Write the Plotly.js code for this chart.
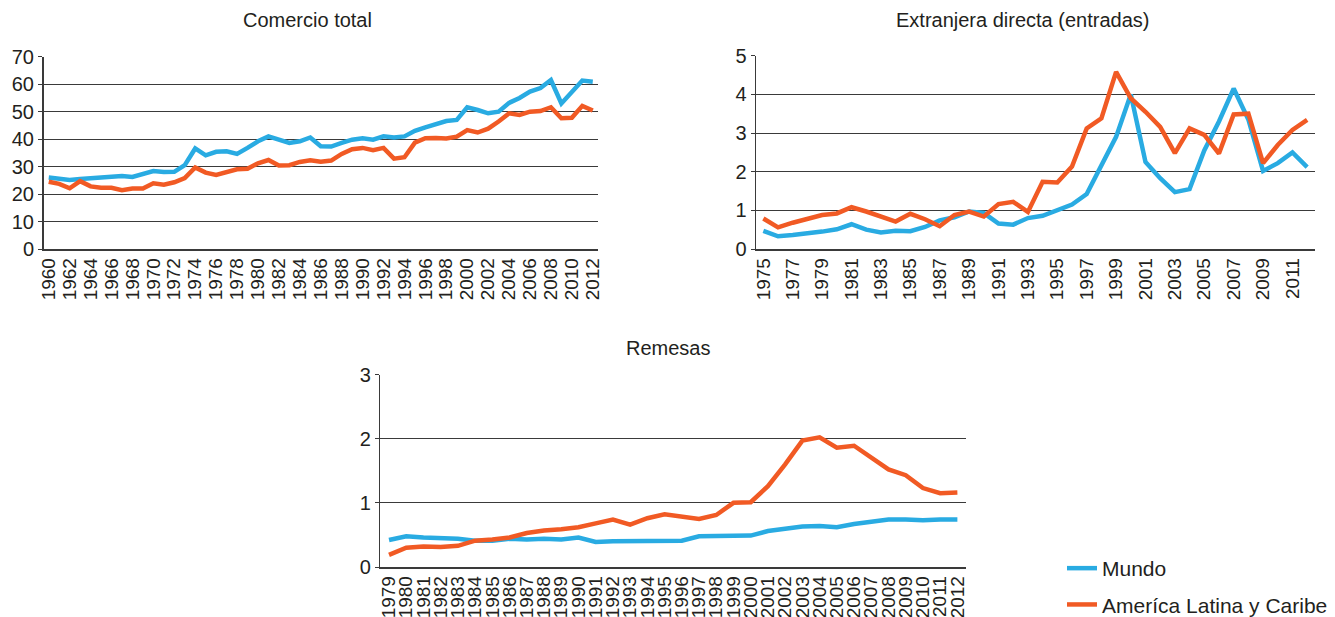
<!DOCTYPE html>
<html>
<head>
<meta charset="utf-8">
<script src="https://cdn.plot.ly/plotly-3.0.1.min.js"></script>
<style>
  html, body { margin: 0; padding: 0; background: #ffffff; }
  #chart { width: 1335px; height: 617px; }
</style>
</head>
<body>
<div id="chart"></div>
<script>
// ---- Data ----
const seriesNames = ["Mundo", "Ameríca Latina y Caribe"];
const chartTitles = ["Comercio total", "Extranjera directa (entradas)", "Remesas"];

const yearsComercio = [1960,1961,1962,1963,1964,1965,1966,1967,1968,1969,1970,1971,1972,1973,1974,1975,1976,1977,1978,1979,1980,1981,1982,1983,1984,1985,1986,1987,1988,1989,1990,1991,1992,1993,1994,1995,1996,1997,1998,1999,2000,2001,2002,2003,2004,2005,2006,2007,2008,2009,2010,2011,2012];
const comercioMundo = [26.0,25.5,25.1,25.5,25.7,25.8,26.2,26.6,26.2,27.2,28.4,28.0,28.1,30.5,36.6,34.1,35.4,35.6,34.6,36.8,39.2,41.0,39.6,38.6,39.2,40.6,37.4,37.3,38.6,39.8,40.3,39.8,41.0,40.6,41.0,43.0,44.3,45.6,46.6,47.0,51.6,50.6,49.4,50.0,53.2,55.0,57.3,58.6,61.5,53.0,57.3,61.3,60.9];
const comercioALC = [24.5,23.7,22.1,24.7,22.8,22.3,22.3,21.4,22.0,22.0,23.9,23.4,24.3,25.8,29.7,27.8,27.0,27.8,29.0,29.2,31.2,32.4,30.4,30.5,31.7,32.3,31.8,32.2,34.6,36.3,36.8,36.0,36.8,32.9,33.4,38.7,40.3,40.4,40.2,40.9,43.3,42.4,43.8,46.4,49.4,48.8,50.0,50.2,51.6,47.6,47.8,52.1,50.4];

const yearsIED = [1975,1976,1977,1978,1979,1980,1981,1982,1983,1984,1985,1986,1987,1988,1989,1990,1991,1992,1993,1994,1995,1996,1997,1998,1999,2000,2001,2002,2003,2004,2005,2006,2007,2008,2009,2010,2011,2012];
const iedMundo = [0.47,0.33,0.36,0.40,0.45,0.51,0.64,0.50,0.43,0.47,0.46,0.57,0.74,0.82,0.97,0.93,0.66,0.63,0.80,0.86,1.00,1.15,1.42,2.15,2.90,4.00,2.25,1.83,1.47,1.55,2.55,3.30,4.15,3.35,2.02,2.22,2.50,2.12];
const iedALC = [0.79,0.56,0.68,0.79,0.88,0.92,1.08,0.97,0.85,0.71,0.91,0.77,0.59,0.88,0.97,0.84,1.16,1.22,0.96,1.74,1.72,2.13,3.12,3.38,4.58,3.90,3.55,3.16,2.48,3.12,2.95,2.47,3.48,3.50,2.22,2.69,3.08,3.34];

const yearsRemesas = [1979,1980,1981,1982,1983,1984,1985,1986,1987,1988,1989,1990,1991,1992,1993,1994,1995,1996,1997,1998,1999,2000,2001,2002,2003,2004,2005,2006,2007,2008,2009,2010,2011,2012];
const remesasMundo = [0.42,0.48,0.46,0.45,0.44,0.41,0.41,0.44,0.43,0.44,0.43,0.46,0.39,0.40,0.40,0.41,0.41,0.41,0.48,0.48,0.48,0.49,0.56,0.59,0.63,0.64,0.62,0.67,0.71,0.74,0.74,0.73,0.74,0.74];
const remesasALC = [0.19,0.30,0.32,0.31,0.33,0.41,0.43,0.46,0.53,0.57,0.59,0.62,0.68,0.74,0.66,0.76,0.82,0.78,0.75,0.81,1.00,1.01,1.26,1.60,1.97,2.02,1.86,1.89,1.70,1.52,1.43,1.23,1.15,1.16];

// ---- Styling ----
const colors = ["#29abe2", "#f15a24"];
const FONT = "Liberation Sans, Arial, Helvetica, sans-serif";
const TXT = "#231f20";
const GRID = "#3a3a3a";
const W = 1335, H = 617;
const px = v => v / W;
const py = v => 1 - v / H;

function line(x, y, i, xa, ya, show) {
  return {
    type: "scatter", mode: "lines", x: x, y: y, name: seriesNames[i],
    xaxis: xa, yaxis: ya, showlegend: show, legendgroup: "g" + i,
    line: { color: colors[i], width: 4.5 }, hoverinfo: "x+y"
  };
}

const data = [
  line(yearsComercio, comercioMundo, 0, "x", "y", true),
  line(yearsComercio, comercioALC, 1, "x", "y", true),
  line(yearsIED, iedMundo, 0, "x2", "y2", false),
  line(yearsIED, iedALC, 1, "x2", "y2", false),
  line(yearsRemesas, remesasMundo, 0, "x3", "y3", false),
  line(yearsRemesas, remesasALC, 1, "x3", "y3", false)
];

function xAxis(domain, first, last, dtick, anchor) {
  return {
    domain: domain, anchor: anchor, type: "linear",
    range: [first - 0.5, last + 0.5], tick0: first, dtick: dtick,
    tickangle: -90, tickformat: "d",
    tickfont: { family: FONT, size: 19, color: TXT },
    showgrid: false, zeroline: false, showline: true, linecolor: GRID, linewidth: 1.5,
    ticks: "", automargin: false, fixedrange: true
  };
}
function yAxis(domain, max, dtick, anchor) {
  return {
    domain: domain, anchor: anchor, range: [0, max], dtick: dtick,
    tickfont: { family: FONT, size: 20, color: TXT },
    showgrid: true, gridcolor: GRID, gridwidth: 1, zeroline: false,
    showline: true, linecolor: GRID, linewidth: 1.5,
    ticks: "outside", ticklen: 4, tickcolor: GRID, tickwidth: 1,
    automargin: false, fixedrange: true
  };
}

const titleFont = { family: FONT, size: 20, color: TXT };

const layout = {
  width: W, height: H, autosize: false,
  margin: { l: 0, r: 0, t: 0, b: 0, autoexpand: false },
  paper_bgcolor: "#ffffff", plot_bgcolor: "#ffffff",
  font: { family: FONT, color: TXT },
  xaxis: xAxis([px(43.5), px(598)], 1960, 2012, 2, "y"),
  yaxis: yAxis([py(249), py(56.7)], 70, 10, "x"),
  xaxis2: xAxis([px(756), px(1314.5)], 1975, 2012, 2, "y2"),
  yaxis2: yAxis([py(249), py(55.7)], 5, 1, "x2"),
  xaxis3: xAxis([px(380.4), px(966)], 1979, 2012, 1, "y3"),
  yaxis3: yAxis([py(567), py(374.5)], 3, 1, "x3"),
  showlegend: true,
  legend: {
    x: px(1062), y: py(548), xanchor: "left", yanchor: "top",
    font: { family: FONT, size: 21, color: TXT },
    tracegroupgap: 6, bgcolor: "rgba(0,0,0,0)", itemwidth: 30
  },
  annotations: [
    { text: chartTitles[0], x: px(307), y: py(20), xref: "paper", yref: "paper", xanchor: "center", yanchor: "middle", showarrow: false, font: titleFont },
    { text: chartTitles[1], x: px(1022), y: py(20), xref: "paper", yref: "paper", xanchor: "center", yanchor: "middle", showarrow: false, font: titleFont },
    { text: chartTitles[2], x: px(668), y: py(348), xref: "paper", yref: "paper", xanchor: "center", yanchor: "middle", showarrow: false, font: titleFont }
  ]
};

Plotly.newPlot("chart", data, layout, { displayModeBar: false, staticPlot: true });
</script>
</body>
</html>
